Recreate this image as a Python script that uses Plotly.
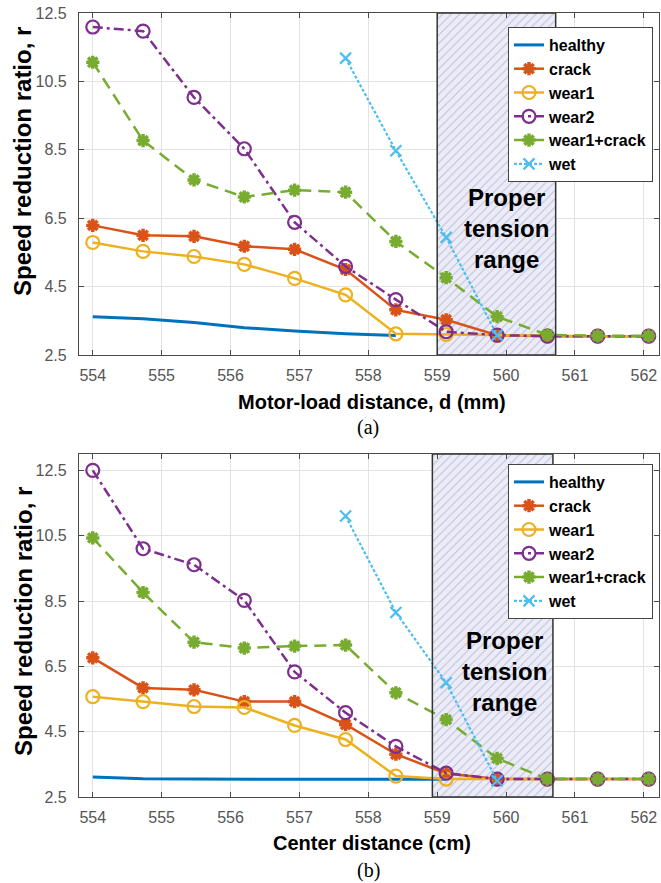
import plotly.graph_objects as go

# ---------------- data ----------------
X_POS = [554, 554.73, 555.47, 556.2, 556.93, 557.67, 558.4, 559.13, 559.87, 560.6, 561.33, 562.07]
X_TICKS = [554, 555, 556, 557, 558, 559, 560, 561, 562]
Y_TICKS = [2.5, 4.5, 6.5, 8.5, 10.5, 12.5]
SERIES = ["healthy", "crack", "wear1", "wear2", "wear1+crack", "wet"]

# panel (a)
healthy_a = [3.62, 3.56, 3.45, 3.30, 3.20, 3.12, 3.07]
crack_a = [6.29, 6.00, 5.97, 5.68, 5.59, 5.00, 3.82, 3.53, 3.08, 3.05, 3.05, 3.05]
wear1_a = [5.79, 5.53, 5.38, 5.15, 4.74, 4.26, 3.12, 3.10, 3.07, 3.05, 3.05, 3.05]
wear2_a = [12.09, 11.97, 10.03, 8.53, 6.38, 5.09, 4.12, 3.18, 3.08, 3.05, 3.05, 3.05]
wc_a = [11.06, 8.77, 7.62, 7.12, 7.32, 7.26, 5.82, 4.76, 3.62, 3.09, 3.06, 3.06]
wet_a = [11.18, 8.47, 5.94, 3.08]

# panel (b)
healthy_b = [3.11, 3.06, 3.05, 3.04, 3.04, 3.04, 3.04, 3.04]
crack_b = [6.76, 5.84, 5.78, 5.42, 5.42, 4.72, 3.81, 3.22, 3.05, 3.05, 3.05, 3.05]
wear1_b = [5.57, 5.42, 5.27, 5.24, 4.69, 4.26, 3.14, 3.05, 3.05, 3.05, 3.05, 3.05]
wear2_b = [12.5, 10.1, 9.61, 8.52, 6.33, 5.08, 4.05, 3.23, 3.05, 3.05, 3.05, 3.05]
wc_b = [10.43, 8.76, 7.24, 7.06, 7.12, 7.15, 5.69, 4.87, 3.68, 3.05, 3.05, 3.05]
wet_b = [11.1, 8.15, 6.0, 3.0]
WET_START = 5  # index in X_POS where "wet" begins

# proper tension range (x extents) and axis ranges
RANGE_A = [559.0, 560.72]
RANGE_B = [558.93, 560.68]
YR_A = [2.5, 12.5]
YR_B = [2.5, 13.0]
XR = [553.8, 562.22]

# ---------------- styling ----------------
COLORS = {"healthy": "#0072BD", "crack": "#D95319", "wear1": "#EDB120",
          "wear2": "#7E2F8E", "wear1+crack": "#77AC30", "wet": "#4DBEEE"}
FONT = "Liberation Sans, Arial, sans-serif"

fig = go.Figure()


def add_panel(vals, rng, yr, xa, ya, leg):
    # hatched proper-tension region
    fig.add_trace(go.Scatter(
        x=[rng[0], rng[1], rng[1], rng[0], rng[0]],
        y=[yr[0], yr[0], yr[1], yr[1], yr[0]],
        fill="toself", mode="lines", line=dict(width=0),
        fillcolor="#e8e8f4",
        fillpattern=dict(shape="/", fgcolor="#8f8fc8", bgcolor="#ececf6",
                         size=6, solidity=0.18),
        xaxis=xa, yaxis=ya, showlegend=False, hoverinfo="skip"))
    healthy, crack, wear1, wear2, wc, wet = vals
    specs = [
        ("healthy", X_POS[:len(healthy)], healthy, dict(width=3), None),
        ("crack", X_POS[:len(crack)], crack, dict(width=2.5),
         dict(symbol="asterisk-open", size=11, line=dict(width=3.5, color=COLORS["crack"]))),
        ("wear1", X_POS[:len(wear1)], wear1, dict(width=2.5),
         dict(symbol="circle-open", size=13, line=dict(width=2.2, color=COLORS["wear1"]))),
        ("wear2", X_POS[:len(wear2)], wear2, dict(width=2.5, dash="10px,4px,3px,4px"),
         dict(symbol="circle-open", size=13, line=dict(width=2.2, color=COLORS["wear2"]))),
        ("wear1+crack", X_POS[:len(wc)], wc, dict(width=2.5, dash="12px,7px"),
         dict(symbol="asterisk-open", size=11, line=dict(width=3.5, color=COLORS["wear1+crack"]))),
        ("wet", X_POS[WET_START:WET_START + len(wet)], wet, dict(width=2.2, dash="3px,2px"),
         dict(symbol="x-thin-open", size=11, line=dict(width=2.2, color=COLORS["wet"]))),
    ]
    for name, xs, ys, line, marker in specs:
        line = dict(line, color=COLORS[name])
        kw = dict(x=xs, y=ys, name=name, line=line, xaxis=xa, yaxis=ya,
                  legend=leg, mode="lines" if marker is None else "lines+markers")
        if marker is not None:
            kw["marker"] = dict(marker, color=COLORS[name])
        fig.add_trace(go.Scatter(**kw))


add_panel([healthy_a, crack_a, wear1_a, wear2_a, wc_a, wet_a], RANGE_A, YR_A, "x", "y", "legend")
add_panel([healthy_b, crack_b, wear1_b, wear2_b, wc_b, wet_b], RANGE_B, YR_B, "x2", "y2", "legend2")

W, H = 661, 883
L, R = 79, 659
TOP_A, BOT_A = 13, 355
TOP_B, BOT_B = 454, 797

axis_common = dict(showline=True, linecolor="#4a4a4a", linewidth=1.2, mirror="ticks",
                   ticks="inside", ticklen=5, tickcolor="#4a4a4a",
                   showgrid=True, gridcolor="#e3e3e3", gridwidth=1, zeroline=False,
                   tickfont=dict(family=FONT, size=16, color="#555555"),
                   automargin=False)

leg_common = dict(xanchor="right", yanchor="top", bgcolor="white",
                  bordercolor="#444444", borderwidth=1,
                  font=dict(family=FONT, size=16, color="black", weight="bold"),
                  itemwidth=30, tracegroupgap=0)

fig.update_layout(
    width=W, height=H, margin=dict(l=0, r=0, t=0, b=0, pad=0), autosize=False,
    paper_bgcolor="white", plot_bgcolor="white",
    xaxis=dict(axis_common, domain=[L / W, R / W], range=XR, tickvals=X_TICKS,
               anchor="y", ticklabelstandoff=6),
    yaxis=dict(axis_common, domain=[1 - BOT_A / H, 1 - TOP_A / H], range=YR_A,
               tickvals=Y_TICKS, anchor="x", ticklabelstandoff=8),
    xaxis2=dict(axis_common, domain=[L / W, R / W], range=XR, tickvals=X_TICKS,
                anchor="y2", ticklabelstandoff=6),
    yaxis2=dict(axis_common, domain=[1 - BOT_B / H, 1 - TOP_B / H], range=YR_B,
                tickvals=Y_TICKS, anchor="x2", ticklabelstandoff=8),
    legend=dict(leg_common, x=653 / W, y=1 - 27 / H),
    legend2=dict(leg_common, x=653 / W, y=1 - 464 / H),
    showlegend=True,
)

# borders of proper tension range
for rng, yr, xr, yref in [(RANGE_A, YR_A, "x", "y"), (RANGE_B, YR_B, "x2", "y2")]:
    fig.add_shape(type="rect", xref=xr, yref=yref, x0=rng[0], x1=rng[1],
                  y0=yr[0], y1=yr[1], line=dict(color="#333333", width=1.5),
                  fillcolor="rgba(0,0,0,0)", layer="above")

txt_font = dict(family=FONT, size=24, color="black", weight="bold")
fig.add_annotation(x=560.0, y=6.2, xref="x", yref="y", text="Proper<br>tension<br>range",
                   showarrow=False, font=txt_font, align="center")
fig.add_annotation(x=559.97, y=6.33, xref="x2", yref="y2", text="Proper<br>tension<br>range",
                   showarrow=False, font=txt_font, align="center")

lab_font = dict(family=FONT, size=20, color="black", weight="bold")
ylab_font = dict(family=FONT, size=24, color="black", weight="bold")
serif = dict(family="Liberation Serif, Times New Roman, serif", size=20, color="black")
ann = [
    (372, 402, "Motor-load distance, d (mm)", lab_font, 0),
    (368, 427, "(a)", serif, 0),
    (372, 843, "Center distance (cm)", lab_font, 0),
    (368, 870, "(b)", serif, 0),
    (23, 162, "Speed reduction ratio, r", ylab_font, -90),
    (23, 622, "Speed reduction ratio, r", ylab_font, -90),
]
for px, py, t, f, ang in ann:
    fig.add_annotation(x=px / W, y=1 - py / H, xref="paper", yref="paper", text=t,
                       showarrow=False, font=f, textangle=ang,
                       xanchor="center", yanchor="middle")

fig.write_html("out.html", config={"displayModeBar": False},
               post_script="document.body.style.margin='0';document.body.style.padding='0';"
                           "document.documentElement.style.overflow='hidden';")
